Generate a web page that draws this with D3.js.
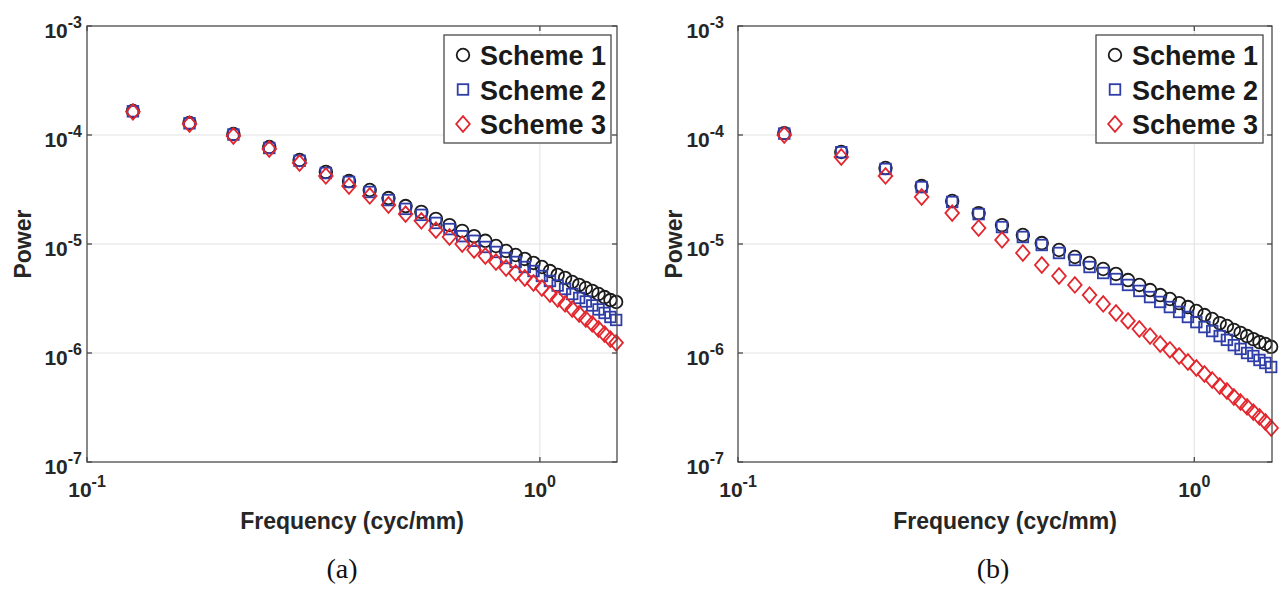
<!DOCTYPE html>
<html>
<head>
<meta charset="utf-8">
<script src="https://cdn.jsdelivr.net/npm/d3@7"></script>
<style>
  body { margin: 0; background: #fff; }
  svg { display: block; }
</style>
</head>
<body>
<div id="main"></div>
<script>
const cte = {
    w: 1285,
    h: 589,
    top: 26,
    bottom: 462,
    xMin: 0.1,
    xMax: 1.48,
    yMin: 1e-7,
    yMax: 1e-3
};

// frequency samples (cyc/mm)
const freqs = [0.1263, 0.1684, 0.2105, 0.2526, 0.2947, 0.3368, 0.3789, 0.421, 0.4631, 0.5052,
    0.5473, 0.5894, 0.6315, 0.6736, 0.7157, 0.7578, 0.7999, 0.842, 0.8841, 0.9262,
    0.9683, 1.0104, 1.0525, 1.0946, 1.1367, 1.1788, 1.2209, 1.263, 1.3051, 1.3472,
    1.3893, 1.4314, 1.4735];

// panel (a)
const powerA1 = [1.66e-4, 1.29e-4, 1.02e-4, 7.76e-5, 5.90e-5, 4.58e-5, 3.78e-5, 3.13e-5, 2.64e-5, 2.23e-5,
    1.97e-5, 1.70e-5, 1.49e-5, 1.32e-5, 1.18e-5, 1.07e-5, 9.59e-6, 8.63e-6, 7.93e-6, 7.29e-6,
    6.70e-6, 6.15e-6, 5.65e-6, 5.20e-6, 4.88e-6, 4.48e-6, 4.21e-6, 3.95e-6, 3.71e-6, 3.48e-6,
    3.26e-6, 3.06e-6, 2.94e-6];
const powerA2 = [1.65e-4, 1.28e-4, 1.01e-4, 7.60e-5, 5.80e-5, 4.48e-5, 3.71e-5, 3.00e-5, 2.53e-5, 2.10e-5,
    1.85e-5, 1.56e-5, 1.37e-5, 1.18e-5, 1.07e-5, 9.39e-6, 8.45e-6, 7.44e-6, 6.84e-6, 6.15e-6,
    5.65e-6, 5.09e-6, 4.58e-6, 4.16e-6, 3.87e-6, 3.48e-6, 3.20e-6, 2.97e-6, 2.73e-6, 2.51e-6,
    2.33e-6, 2.14e-6, 2.01e-6];
const powerA3 = [1.63e-4, 1.26e-4, 9.79e-5, 7.44e-5, 5.53e-5, 4.21e-5, 3.40e-5, 2.76e-5, 2.28e-5, 1.88e-5,
    1.63e-5, 1.34e-5, 1.16e-5, 1.00e-5, 8.81e-6, 7.76e-6, 6.84e-6, 6.02e-6, 5.42e-6, 4.88e-6,
    4.39e-6, 3.95e-6, 3.48e-6, 3.13e-6, 2.82e-6, 2.53e-6, 2.28e-6, 2.05e-6, 1.85e-6, 1.66e-6,
    1.49e-6, 1.34e-6, 1.24e-6];

// panel (b)
const powerB1 = [1.04e-4, 6.98e-5, 4.98e-5, 3.40e-5, 2.48e-5, 1.92e-5, 1.49e-5, 1.21e-5, 1.02e-5, 8.81e-6,
    7.60e-6, 6.70e-6, 5.90e-6, 5.31e-6, 4.67e-6, 4.21e-6, 3.78e-6, 3.40e-6, 3.13e-6, 2.87e-6,
    2.64e-6, 2.43e-6, 2.23e-6, 2.05e-6, 1.88e-6, 1.77e-6, 1.63e-6, 1.53e-6, 1.43e-6, 1.34e-6,
    1.26e-6, 1.21e-6, 1.14e-6];
const powerB2 = [1.03e-4, 6.95e-5, 4.88e-5, 3.33e-5, 2.43e-5, 1.88e-5, 1.43e-5, 1.16e-5, 9.79e-6, 8.27e-6,
    7.13e-6, 6.15e-6, 5.42e-6, 4.77e-6, 4.21e-6, 3.71e-6, 3.26e-6, 2.94e-6, 2.64e-6, 2.38e-6,
    2.14e-6, 1.92e-6, 1.73e-6, 1.59e-6, 1.43e-6, 1.32e-6, 1.18e-6, 1.09e-6, 1.00e-6, 9.39e-7,
    8.63e-7, 8.10e-7, 7.44e-7];
const powerB3 = [1.00e-4, 6.28e-5, 4.21e-5, 2.70e-5, 1.92e-5, 1.40e-5, 1.09e-5, 8.27e-6, 6.42e-6, 5.09e-6,
    4.21e-6, 3.40e-6, 2.82e-6, 2.33e-6, 1.97e-6, 1.66e-6, 1.43e-6, 1.21e-6, 1.07e-6, 9.39e-7,
    8.27e-7, 7.29e-7, 6.42e-7, 5.65e-7, 4.98e-7, 4.48e-7, 3.95e-7, 3.55e-7, 3.20e-7, 2.87e-7,
    2.59e-7, 2.33e-7, 2.05e-7];

const schemeNames = ["Scheme 1", "Scheme 2", "Scheme 3"];
const yTicks = [1e-7, 1e-6, 1e-5, 1e-4, 1e-3];
const yTickExps = ["-7", "-6", "-5", "-4", "-3"];
const xTicks = [0.1, 1];
const xTickExps = ["-1", "0"];
const panelLabels = ["(a)", "(b)"];

const colors = ["#1c1c1c", "#2f3da8", "#e3262d"];
const shapes = ["circle", "square", "diamond"];

const panels = [
    { left: 87, right: 617, tickGap: 5, legendInset: 6, labelX: 342, series: [powerA1, powerA2, powerA3] },
    { left: 738, right: 1272, tickGap: 14, legendInset: 9, labelX: 993, series: [powerB1, powerB2, powerB3] }
];

const svg = d3.select("#main").append("svg")
    .attr("width", cte.w)
    .attr("height", cte.h);

function drawMarker(g, shape, color, x, y) {
    const sw = 1.8;
    if (shape === "circle") {
        g.append("circle").attr("cx", x).attr("cy", y).attr("r", 6.3)
            .attr("fill", "none").attr("stroke", color).attr("stroke-width", sw);
    } else if (shape === "square") {
        g.append("rect").attr("x", x - 5.3).attr("y", y - 5.3)
            .attr("width", 10.6).attr("height", 10.6)
            .attr("fill", "none").attr("stroke", color).attr("stroke-width", sw);
    } else {
        const w = 6.8, h = 7.8;
        g.append("path")
            .attr("d", `M${x},${y - h}L${x + w},${y}L${x},${y + h}L${x - w},${y}Z`)
            .attr("fill", "none").attr("stroke", color).attr("stroke-width", sw);
    }
}

function drawPanel(p, idx) {
    const x = d3.scaleLog().domain([cte.xMin, cte.xMax]).range([p.left, p.right]);
    const y = d3.scaleLog().domain([cte.yMin, cte.yMax]).range([cte.bottom, cte.top]);

    const g = svg.append("g");

    // grid
    g.selectAll(".ygrid").data(yTicks.slice(1, -1)).enter().append("line")
        .attr("x1", p.left).attr("x2", p.right)
        .attr("y1", d => y(d)).attr("y2", d => y(d))
        .attr("stroke", "#e2e2e2").attr("stroke-width", 1);
    g.selectAll(".xgrid").data(xTicks.slice(1)).enter().append("line")
        .attr("x1", d => x(d)).attr("x2", d => x(d))
        .attr("y1", cte.top).attr("y2", cte.bottom)
        .attr("stroke", "#e2e2e2").attr("stroke-width", 1);

    // data
    p.series.forEach((vals, si) => {
        const sg = g.append("g");
        vals.forEach((v, i) => drawMarker(sg, shapes[si], colors[si], x(freqs[i]), y(v)));
    });

    // box
    g.append("rect")
        .attr("x", p.left).attr("y", cte.top)
        .attr("width", p.right - p.left).attr("height", cte.bottom - cte.top)
        .attr("fill", "none").attr("stroke", "#4a4a4a").attr("stroke-width", 1.3);

    // inward ticks
    yTicks.forEach(t => {
        g.append("line").attr("x1", p.left).attr("x2", p.left + 5).attr("y1", y(t)).attr("y2", y(t))
            .attr("stroke", "#4a4a4a").attr("stroke-width", 1.3);
        g.append("line").attr("x1", p.right).attr("x2", p.right - 5).attr("y1", y(t)).attr("y2", y(t))
            .attr("stroke", "#4a4a4a").attr("stroke-width", 1.3);
    });
    xTicks.forEach(t => {
        g.append("line").attr("x1", x(t)).attr("x2", x(t)).attr("y1", cte.bottom).attr("y2", cte.bottom - 5)
            .attr("stroke", "#4a4a4a").attr("stroke-width", 1.3);
        g.append("line").attr("x1", x(t)).attr("x2", x(t)).attr("y1", cte.top).attr("y2", cte.top + 5)
            .attr("stroke", "#4a4a4a").attr("stroke-width", 1.3);
    });

    // tick labels
    yTicks.forEach((t, i) => {
        const txt = g.append("text")
            .attr("x", p.left - p.tickGap).attr("y", y(t) + 12)
            .attr("text-anchor", "end")
            .style("font-family", "'Liberation Sans', Arial, sans-serif")
            .style("font-weight", "bold")
            .style("fill", "#262626");
        txt.append("tspan").style("font-size", "21px").text("10");
        txt.append("tspan").style("font-size", "16px").attr("dy", -10).text(yTickExps[i]);
    });
    xTicks.forEach((t, i) => {
        const txt = g.append("text")
            .attr("x", x(t)).attr("y", 497)
            .attr("text-anchor", "middle")
            .style("font-family", "'Liberation Sans', Arial, sans-serif")
            .style("font-weight", "bold")
            .style("fill", "#262626");
        txt.append("tspan").style("font-size", "21px").text("10");
        txt.append("tspan").style("font-size", "16px").attr("dy", -10).text(xTickExps[i]);
    });

    // axis titles
    g.append("text")
        .attr("x", (p.left + p.right) / 2).attr("y", 529)
        .attr("text-anchor", "middle")
        .style("font-family", "'Liberation Sans', Arial, sans-serif")
        .style("font-size", "23px").style("font-weight", "bold").style("fill", "#262626")
        .text("Frequency (cyc/mm)");
    g.append("text")
        .attr("transform", `translate(${p.left - 56}, ${(cte.top + cte.bottom) / 2}) rotate(-90)`)
        .attr("text-anchor", "middle")
        .style("font-family", "'Liberation Sans', Arial, sans-serif")
        .style("font-size", "23px").style("font-weight", "bold").style("fill", "#262626")
        .text("Power");

    // legend
    const lw = 167, lh = 108;
    const lx = p.right - p.legendInset - lw, ly = 35;
    const lg = g.append("g");
    lg.append("rect").attr("x", lx).attr("y", ly).attr("width", lw).attr("height", lh)
        .attr("fill", "#fff").attr("stroke", "#4a4a4a").attr("stroke-width", 1.3);
    schemeNames.forEach((name, i) => {
        const cy = ly + 20 + i * 34.5;
        drawMarker(lg, shapes[i], colors[i], lx + 19, cy);
        lg.append("text")
            .attr("x", lx + 36).attr("y", cy + 10)
            .style("font-family", "'Liberation Sans', Arial, sans-serif")
            .style("font-size", "27px").style("font-weight", "bold").style("fill", "#1a1a1a")
            .text(name);
    });

    // panel caption
    g.append("text")
        .attr("x", p.labelX).attr("y", 578)
        .attr("text-anchor", "middle")
        .style("font-family", "'Liberation Serif', 'Times New Roman', serif")
        .style("font-size", "28px").style("fill", "#111")
        .text(panelLabels[idx]);
}

panels.forEach(drawPanel);
</script>
</body>
</html>
